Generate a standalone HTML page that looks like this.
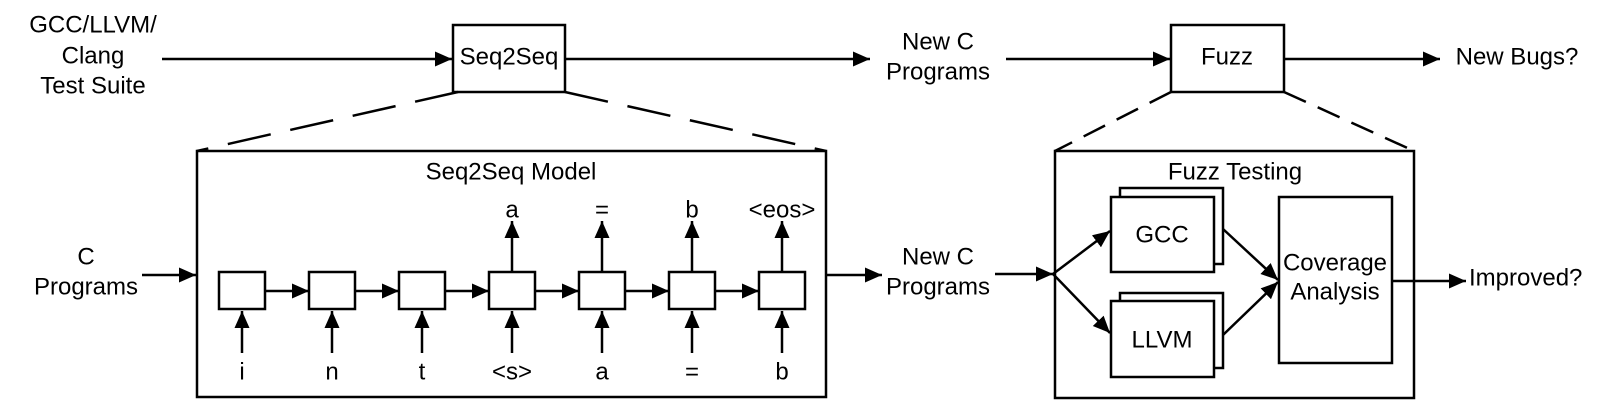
<!DOCTYPE html>
<html><head><meta charset="utf-8"><style>
html,body{margin:0;padding:0;background:#fff;}
svg{display:block;}
text{font-family:"Liberation Sans",Arial,sans-serif;font-size:24px;fill:#000;}
</style></head><body>
<svg width="1605" height="412" viewBox="0 0 1605 412" xmlns="http://www.w3.org/2000/svg">
<defs>
<marker id="ah" markerUnits="userSpaceOnUse" markerWidth="19" markerHeight="16" refX="17" refY="7.5" orient="auto">
<path d="M0,0 L17,7.5 L0,15 z" fill="#000"/>
</marker>
</defs>
<g stroke="#000" stroke-width="2.5" fill="none">
<line x1="162" y1="59" x2="452" y2="59" marker-end="url(#ah)"/>
<rect x="453" y="25" width="112" height="67" fill="#fff"/>
<line x1="565" y1="59" x2="870" y2="59" marker-end="url(#ah)"/>
<line x1="1006" y1="59" x2="1170" y2="59" marker-end="url(#ah)"/>
<rect x="1171" y="25" width="113" height="67" fill="#fff"/>
<line x1="1284" y1="59" x2="1440" y2="59" marker-end="url(#ah)"/>
<line x1="458" y1="92" x2="197" y2="151" stroke-dasharray="44 20"/>
<line x1="565" y1="92" x2="826" y2="151" stroke-dasharray="44 20"/>
<line x1="1171" y1="92" x2="1055" y2="151" stroke-dasharray="24 13"/>
<line x1="1284" y1="92" x2="1414" y2="151" stroke-dasharray="24 13"/>
<rect x="197" y="151" width="629" height="246"/>
<line x1="142" y1="275" x2="196" y2="275" marker-end="url(#ah)"/>
<line x1="826" y1="275" x2="882" y2="275" marker-end="url(#ah)"/>
<g>
<rect x="219" y="272" width="46" height="37"/>
<rect x="309" y="272" width="46" height="37"/>
<rect x="399" y="272" width="46" height="37"/>
<rect x="489" y="272" width="46" height="37"/>
<rect x="579" y="272" width="46" height="37"/>
<rect x="669" y="272" width="46" height="37"/>
<rect x="759" y="272" width="46" height="37"/>
</g>
<g>
<line x1="265" y1="291" x2="309" y2="291" marker-end="url(#ah)"/>
<line x1="355" y1="291" x2="399" y2="291" marker-end="url(#ah)"/>
<line x1="445" y1="291" x2="489" y2="291" marker-end="url(#ah)"/>
<line x1="535" y1="291" x2="579" y2="291" marker-end="url(#ah)"/>
<line x1="625" y1="291" x2="669" y2="291" marker-end="url(#ah)"/>
<line x1="715" y1="291" x2="759" y2="291" marker-end="url(#ah)"/>
</g>
<g>
<line x1="242" y1="353" x2="242" y2="311" marker-end="url(#ah)"/>
<line x1="332" y1="353" x2="332" y2="311" marker-end="url(#ah)"/>
<line x1="422" y1="353" x2="422" y2="311" marker-end="url(#ah)"/>
<line x1="512" y1="353" x2="512" y2="311" marker-end="url(#ah)"/>
<line x1="602" y1="353" x2="602" y2="311" marker-end="url(#ah)"/>
<line x1="692" y1="353" x2="692" y2="311" marker-end="url(#ah)"/>
<line x1="782" y1="353" x2="782" y2="311" marker-end="url(#ah)"/>
</g>
<g>
<line x1="512" y1="272" x2="512" y2="221" marker-end="url(#ah)"/>
<line x1="602" y1="272" x2="602" y2="221" marker-end="url(#ah)"/>
<line x1="692" y1="272" x2="692" y2="221" marker-end="url(#ah)"/>
<line x1="782" y1="272" x2="782" y2="221" marker-end="url(#ah)"/>
</g>
<rect x="1055" y="151" width="359" height="247"/>
<line x1="995" y1="274" x2="1053" y2="274" marker-end="url(#ah)"/>
<line x1="1053" y1="274" x2="1110" y2="231" marker-end="url(#ah)"/>
<line x1="1053" y1="274" x2="1110" y2="333" marker-end="url(#ah)"/>
<rect x="1120" y="188" width="103" height="76" fill="#fff"/>
<rect x="1111" y="197" width="103" height="75" fill="#fff"/>
<rect x="1120" y="293" width="103" height="75" fill="#fff"/>
<rect x="1111" y="301" width="103" height="76" fill="#fff"/>
<rect x="1279" y="197" width="113" height="166" fill="#fff"/>
<line x1="1223" y1="229" x2="1278" y2="280" marker-end="url(#ah)"/>
<line x1="1223" y1="335" x2="1278" y2="282" marker-end="url(#ah)"/>
<line x1="1392" y1="281" x2="1466" y2="281" marker-end="url(#ah)"/>
</g>
<g text-anchor="middle" dominant-baseline="central">
<text x="93" y="25">GCC/LLVM/</text>
<text x="93" y="56">Clang</text>
<text x="93" y="86">Test Suite</text>
<text x="509" y="57">Seq2Seq</text>
<text x="938" y="42">New C</text>
<text x="938" y="72">Programs</text>
<text x="1227" y="57">Fuzz</text>
<text x="1517" y="57">New Bugs?</text>
<text x="86" y="257">C</text>
<text x="86" y="287">Programs</text>
<text x="511" y="172">Seq2Seq Model</text>
<text x="512" y="210">a</text>
<text x="602" y="210">=</text>
<text x="692" y="210">b</text>
<text x="782" y="210">&lt;eos&gt;</text>
<text x="242" y="372">i</text>
<text x="332" y="372">n</text>
<text x="422" y="372">t</text>
<text x="512" y="372">&lt;s&gt;</text>
<text x="602" y="372">a</text>
<text x="692" y="372">=</text>
<text x="782" y="372">b</text>
<text x="938" y="257">New C</text>
<text x="938" y="287">Programs</text>
<text x="1235" y="172">Fuzz Testing</text>
<text x="1162" y="235">GCC</text>
<text x="1162" y="340">LLVM</text>
<text x="1335" y="263">Coverage</text>
<text x="1335" y="292">Analysis</text>
</g>
<text x="1469" y="278" dominant-baseline="central">Improved?</text>
</svg>
</body></html>
